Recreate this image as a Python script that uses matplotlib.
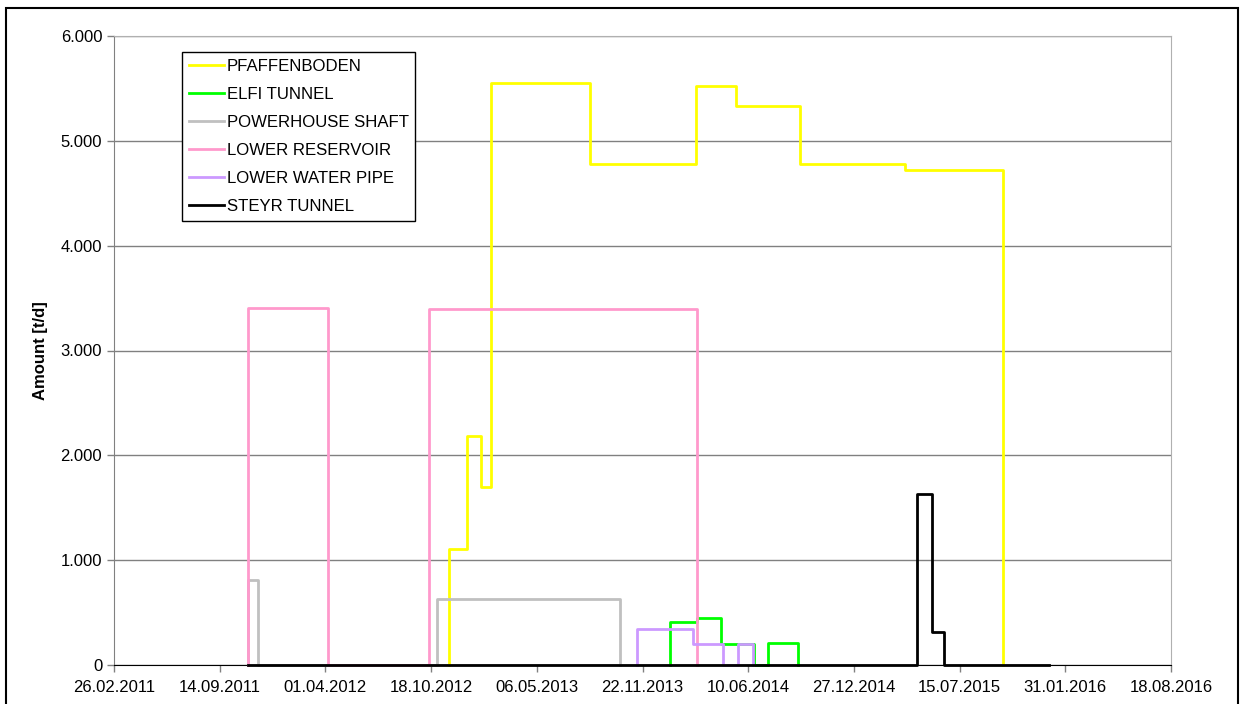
#
# imports
import matplotlib
matplotlib.use('Agg')
import matplotlib.pyplot as plt
import matplotlib.dates as mdates
from matplotlib.ticker import FuncFormatter, MultipleLocator
from matplotlib.patches import Rectangle
import pandas as pd
#
#################################################################
# Data: change dates (dd.mm.yyyy) and the level [t/d] valid from that date
pfaffenboden_dates=['21.11.2012','25.12.2012','20.01.2013','08.02.2013','15.08.2013',
                    '03.03.2014','18.05.2014','16.09.2014','03.04.2015','05.10.2015']
pfaffenboden_vals=[1110,2180,1700,5550,4780,5520,5330,4780,4720,0]
elfi_dates=['13.01.2014','05.03.2014','20.04.2014','21.06.2014','17.07.2014','12.09.2014']
elfi_vals=[413,448,200,0,210,0]
powerhouse_dates=['07.11.2011','25.11.2011','29.10.2012','10.10.2013']
powerhouse_vals=[810,0,630,0]
reservoir_dates=['07.11.2011','06.04.2012','14.10.2012','05.03.2014']
reservoir_vals=[3410,0,3400,0]
waterpipe_dates=['12.11.2013','26.02.2014','23.04.2014','22.05.2014','19.06.2014']
waterpipe_vals=[343,200,0,200,0]
steyr_dates=['07.11.2011','25.04.2015','23.05.2015','15.06.2015','31.12.2015']
steyr_vals=[0,1629,317,0,0]
#
series_names=['PFAFFENBODEN','ELFI TUNNEL','POWERHOUSE SHAFT','LOWER RESERVOIR','LOWER WATER PIPE','STEYR TUNNEL']
series_dates=[pfaffenboden_dates,elfi_dates,powerhouse_dates,reservoir_dates,waterpipe_dates,steyr_dates]
series_vals=[pfaffenboden_vals,elfi_vals,powerhouse_vals,reservoir_vals,waterpipe_vals,steyr_vals]
series_cols=['#FFFF00','#00FF00','#C0C0C0','#FF99CC','#CC99FF','#000000']
#
# Axis range and ticks (every 200 days)
x_start='26.02.2011'
x_end='18.08.2016'
#################################################################

def step_path(dates,levels):
    # build a step line starting from zero
    dd=pd.to_datetime(dates,format='%d.%m.%Y')
    xs=[]
    ys=[]
    prev=0
    for d,v in zip(dd,levels):
        xs+=[d,d]
        ys+=[prev,v]
        prev=v
    return xs,ys

plt.rcParams['font.family']=['Liberation Sans','DejaVu Sans']
fig=plt.figure(figsize=(12.41,7.04),dpi=100)
ax=fig.add_axes([114/1241,1-665/704,(1171-114)/1241,(665-36)/704])

for name,dts,vals,col in zip(series_names,series_dates,series_vals,series_cols):
    xs,ys=step_path(dts,vals)
    ax.plot(xs,ys,color=col,lw=2.0,label=name,zorder=3,clip_on=False)

# Axes
t0=pd.to_datetime(x_start,format='%d.%m.%Y')
t1=pd.to_datetime(x_end,format='%d.%m.%Y')
ax.set_xlim(t0,t1)
ax.set_ylim(0,6000)
ax.set_xticks(pd.date_range(t0,t1,freq='200D'))
ax.xaxis.set_major_formatter(mdates.DateFormatter('%d.%m.%Y'))
ax.yaxis.set_major_locator(MultipleLocator(1000))
ax.yaxis.set_major_formatter(FuncFormatter(lambda v,p: '{:,.0f}'.format(v).replace(',','.')))
ax.tick_params(axis='both',labelsize=12,direction='out',length=5,width=1,colors='#808080',labelcolor='black')
ax.tick_params(axis='x',pad=6)
ax.set_ylabel('Amount [t/d]',fontsize=12,fontweight='bold',labelpad=9)
ax.yaxis.grid(True,color='#808080',lw=1)
ax.set_axisbelow(True)
for s in ['top','right']:
    ax.spines[s].set_color('#B0B0B0')
ax.spines['left'].set_color('#808080')
ax.spines['bottom'].set_color('black')

# Legend
leg=ax.legend(loc='upper left',bbox_to_anchor=(68/1057,1-16/629),fontsize=12.1,frameon=True,
              fancybox=False,edgecolor='black',framealpha=1,handlelength=2.1,handletextpad=0.15,
              labelspacing=0.78,borderpad=0.4,borderaxespad=0)
leg.get_frame().set_linewidth(1.0)

# Figure frame
fig.patches.append(Rectangle((6/1241,-0.1),(1238-6)/1241,1.1-8/704,transform=fig.transFigure,
                             fill=False,edgecolor='black',lw=1.5))

fig.savefig('out.png',dpi=100)
